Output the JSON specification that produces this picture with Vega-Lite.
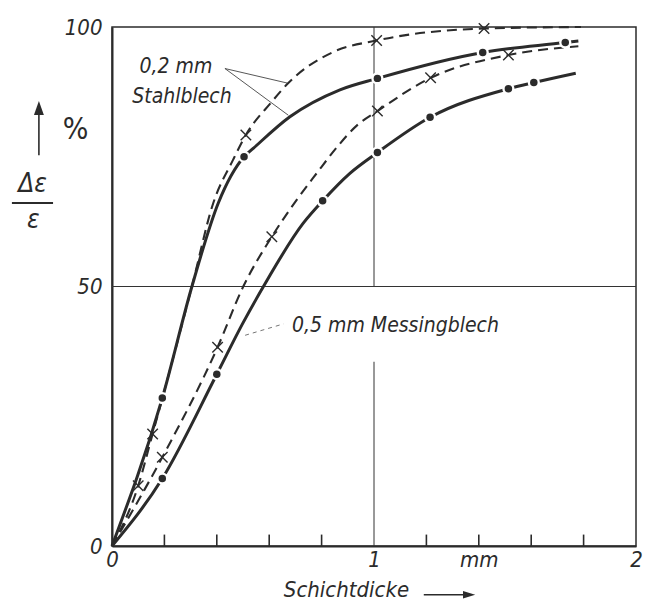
{
  "$schema": "https://vega.github.io/schema/vega-lite/v6.json",
  "width": 524,
  "height": 519,
  "autosize": {"type": "none"},
  "padding": {"left": 112, "top": 27, "right": 9, "bottom": 60},
  "background": "white",
  "config": {
    "view": {"stroke": "#2b2b2b", "strokeWidth": 1.5},
    "font": "DejaVu Sans Condensed, DejaVu Sans, sans-serif"
  },
  "datasets": {
    "curves": [
      {"s": "st_x", "x": 0, "y": 0, "m": 0},
      {"s": "st_x", "x": 0.10, "y": 11.6, "m": 1},
      {"s": "st_x", "x": 0.155, "y": 21.6, "m": 1},
      {"s": "st_x", "x": 0.305, "y": 50, "m": 0},
      {"s": "st_x", "x": 0.386, "y": 66, "m": 0},
      {"s": "st_x", "x": 0.462, "y": 74.4, "m": 0},
      {"s": "st_x", "x": 0.511, "y": 79.2, "m": 1},
      {"s": "st_x", "x": 0.61, "y": 85.6, "m": 0},
      {"s": "st_x", "x": 0.669, "y": 89.0, "m": 0},
      {"s": "st_x", "x": 0.845, "y": 95.2, "m": 0},
      {"s": "st_x", "x": 1.01, "y": 97.4, "m": 1},
      {"s": "st_x", "x": 1.42, "y": 99.7, "m": 1},
      {"s": "st_x", "x": 1.79, "y": 100, "m": 0},

      {"s": "st_o", "x": 0, "y": 0, "m": 0},
      {"s": "st_o", "x": 0.192, "y": 28.5, "m": 1},
      {"s": "st_o", "x": 0.305, "y": 50, "m": 0},
      {"s": "st_o", "x": 0.405, "y": 66, "m": 0},
      {"s": "st_o", "x": 0.504, "y": 75.0, "m": 1},
      {"s": "st_o", "x": 0.539, "y": 76.6, "m": 0},
      {"s": "st_o", "x": 0.679, "y": 82.7, "m": 0},
      {"s": "st_o", "x": 0.87, "y": 87.9, "m": 0},
      {"s": "st_o", "x": 1.013, "y": 90.1, "m": 1},
      {"s": "st_o", "x": 1.415, "y": 95.1, "m": 1},
      {"s": "st_o", "x": 1.73, "y": 97.0, "m": 1},
      {"s": "st_o", "x": 1.78, "y": 97.3, "m": 0},

      {"s": "ms_x", "x": 0, "y": 0, "m": 0},
      {"s": "ms_x", "x": 0.192, "y": 17.1, "m": 1},
      {"s": "ms_x", "x": 0.403, "y": 38.3, "m": 1},
      {"s": "ms_x", "x": 0.501, "y": 50, "m": 0},
      {"s": "ms_x", "x": 0.61, "y": 59.6, "m": 1},
      {"s": "ms_x", "x": 0.705, "y": 66.7, "m": 0},
      {"s": "ms_x", "x": 0.781, "y": 71.8, "m": 0},
      {"s": "ms_x", "x": 0.858, "y": 76.8, "m": 0},
      {"s": "ms_x", "x": 0.934, "y": 81.0, "m": 0},
      {"s": "ms_x", "x": 1.013, "y": 83.8, "m": 1},
      {"s": "ms_x", "x": 1.216, "y": 90.2, "m": 1},
      {"s": "ms_x", "x": 1.513, "y": 94.6, "m": 1},
      {"s": "ms_x", "x": 1.78, "y": 96.3, "m": 0},

      {"s": "ms_o", "x": 0, "y": 0, "m": 0},
      {"s": "ms_o", "x": 0.192, "y": 13.0, "m": 1},
      {"s": "ms_o", "x": 0.40, "y": 33.1, "m": 1},
      {"s": "ms_o", "x": 0.499, "y": 42.9, "m": 0},
      {"s": "ms_o", "x": 0.578, "y": 50, "m": 0},
      {"s": "ms_o", "x": 0.73, "y": 62.2, "m": 0},
      {"s": "ms_o", "x": 0.804, "y": 66.5, "m": 1},
      {"s": "ms_o", "x": 0.908, "y": 71.8, "m": 0},
      {"s": "ms_o", "x": 1.013, "y": 75.8, "m": 1},
      {"s": "ms_o", "x": 1.214, "y": 82.6, "m": 1},
      {"s": "ms_o", "x": 1.513, "y": 88.1, "m": 1},
      {"s": "ms_o", "x": 1.61, "y": 89.3, "m": 1},
      {"s": "ms_o", "x": 1.77, "y": 91.1, "m": 0}
    ],
    "grid_v": [
      {"x": 1, "y": 0, "y2": 35.5},
      {"x": 1, "y": 50, "y2": 100}
    ],
    "grid_h": [
      {"x": 0, "x2": 2, "y": 50}
    ],
    "ticks": [
      {"x": 0.2, "y": 0, "y2": 2.2},
      {"x": 0.4, "y": 0, "y2": 2.2},
      {"x": 0.6, "y": 0, "y2": 2.2},
      {"x": 0.8, "y": 0, "y2": 2.2},
      {"x": 1.2, "y": 0, "y2": 2.2},
      {"x": 1.4, "y": 0, "y2": 2.2},
      {"x": 1.6, "y": 0, "y2": 2.2},
      {"x": 1.8, "y": 0, "y2": 2.2}
    ],
    "pointer_lines": [
      {"x": 0.431, "y": 92.0, "x2": 0.669, "y2": 89.2},
      {"x": 0.431, "y": 92.0, "x2": 0.673, "y2": 83.0}
    ],
    "pointer_dashed": [
      {"x": 0.508, "y": 40.6, "x2": 0.655, "y2": 42.8}
    ],
    "axis_arrows": [
      {"x": -0.279, "y": 75.3, "x2": -0.279, "y2": 84.0},
      {"x": 1.19, "y": -9.4, "x2": 1.35, "y2": -9.4}
    ],
    "fraction_bar": [
      {"x": -0.382, "y": 66.1, "x2": -0.225, "y2": 66.1}
    ],
    "head_up": [{"x": -0.279, "y": 84.4}],
    "head_right": [{"x": 1.363, "y": -9.4}],
    "labels_center": [
      {"t": "0,2 mm", "x": 0.244, "y": 92.3},
      {"t": "Stahlblech", "x": 0.267, "y": 86.5}
    ],
    "labels_title": [
      {"t": "Schichtdicke", "x": 0.895, "y": -8.5}
    ],
    "labels_left": [
      {"t": "0,5 mm Messingblech", "x": 0.687, "y": 42.4}
    ],
    "labels_percent": [
      {"t": "%", "x": -0.139, "y": 80.2}
    ],
    "labels_eps": [
      {"t": "Δε", "x": -0.303, "y": 69.7},
      {"t": "ε", "x": -0.3, "y": 62.9}
    ]
  },
  "encoding": {
    "x": {
      "field": "x", "type": "quantitative",
      "scale": {"domain": [0, 2], "nice": false, "zero": false},
      "axis": {
        "values": [0, 1, 1.4, 2],
        "ticks": false,
        "domainWidth": 2, "domainColor": "#2b2b2b",
        "labelExpr": "datum.value == 1.4 ? 'mm' : datum.value == 0 ? '0' : datum.value == 1 ? '1' : '2'",
        "labelFontSize": 22, "labelFontStyle": "italic", "labelColor": "#2b2b2b",
        "labelPadding": 3, "labelFlush": false, "labelOverlap": false,
        "grid": false, "title": null
      }
    },
    "y": {
      "field": "y", "type": "quantitative",
      "scale": {"domain": [0, 100], "nice": false, "zero": false},
      "axis": {
        "values": [0, 50, 100], "ticks": false,
        "domainWidth": 2, "domainColor": "#2b2b2b",
        "labelExpr": "datum.value == 0 ? '0' : datum.value == 50 ? '50' : '100'",
        "labelFontSize": 22, "labelFontStyle": "italic", "labelColor": "#2b2b2b",
        "labelPadding": 10, "labelFlush": false, "labelOverlap": false,
        "grid": false, "title": null
      }
    }
  },
  "layer": [
    {
      "data": {"name": "grid_v"},
      "mark": {"type": "rule", "stroke": "#333333", "strokeWidth": 1},
      "encoding": {"y2": {"field": "y2"}}
    },
    {
      "data": {"name": "grid_h"},
      "mark": {"type": "rule", "stroke": "#333333", "strokeWidth": 1},
      "encoding": {"x2": {"field": "x2"}}
    },
    {
      "data": {"name": "ticks"},
      "mark": {"type": "rule", "stroke": "#2b2b2b", "strokeWidth": 1.6},
      "encoding": {"y2": {"field": "y2"}}
    },
    {
      "data": {"name": "pointer_lines"},
      "mark": {"type": "rule", "stroke": "#444444", "strokeWidth": 0.9},
      "encoding": {"x2": {"field": "x2"}, "y2": {"field": "y2"}}
    },
    {
      "data": {"name": "pointer_dashed"},
      "mark": {"type": "rule", "stroke": "#666666", "strokeWidth": 0.9, "strokeDash": [4, 4]},
      "encoding": {"x2": {"field": "x2"}, "y2": {"field": "y2"}}
    },
    {
      "data": {"name": "axis_arrows"},
      "mark": {"type": "rule", "stroke": "#2b2b2b", "strokeWidth": 1.6},
      "encoding": {"x2": {"field": "x2"}, "y2": {"field": "y2"}}
    },
    {
      "data": {"name": "fraction_bar"},
      "mark": {"type": "rule", "stroke": "#2b2b2b", "strokeWidth": 2},
      "encoding": {"x2": {"field": "x2"}, "y2": {"field": "y2"}}
    },
    {
      "data": {"name": "head_up"},
      "mark": {"type": "point", "shape": "M0,-1L0.7,1L-0.7,1Z", "filled": true, "color": "#2b2b2b", "size": 200, "opacity": 1}
    },
    {
      "data": {"name": "head_right"},
      "mark": {"type": "point", "shape": "M1,0L-1,0.6L-1,-0.6Z", "filled": true, "color": "#2b2b2b", "size": 150, "opacity": 1}
    },
    {
      "data": {"name": "curves"},
      "transform": [{"filter": "datum.s == 'st_x' || datum.s == 'ms_x'"}],
      "mark": {"type": "line", "interpolate": "monotone", "stroke": "#2b2b2b", "strokeWidth": 2.1, "strokeDash": [10, 6]},
      "encoding": {"detail": {"field": "s"}}
    },
    {
      "data": {"name": "curves"},
      "transform": [{"filter": "datum.s == 'st_o' || datum.s == 'ms_o'"}],
      "mark": {"type": "line", "interpolate": "monotone", "stroke": "#2b2b2b", "strokeWidth": 3},
      "encoding": {"detail": {"field": "s"}}
    },
    {
      "data": {"name": "curves"},
      "transform": [{"filter": "datum.m == 1 && (datum.s == 'st_o' || datum.s == 'ms_o')"}],
      "mark": {"type": "point", "shape": "circle", "filled": true, "color": "white", "size": 150, "opacity": 1}
    },
    {
      "data": {"name": "curves"},
      "transform": [{"filter": "datum.m == 1 && (datum.s == 'st_o' || datum.s == 'ms_o')"}],
      "mark": {"type": "point", "shape": "circle", "filled": true, "color": "#2b2b2b", "size": 56, "opacity": 1}
    },
    {
      "data": {"name": "curves"},
      "transform": [{"filter": "datum.m == 1 && (datum.s == 'st_x' || datum.s == 'ms_x')"}],
      "mark": {"type": "point", "shape": "M-1,-1L1,1M-1,1L1,-1", "filled": false, "stroke": "#2b2b2b", "strokeWidth": 1.4, "size": 110, "opacity": 1}
    },
    {
      "data": {"name": "labels_center"},
      "mark": {"type": "text", "fontSize": 21, "fontStyle": "italic", "align": "center", "baseline": "middle", "color": "#2b2b2b"},
      "encoding": {"text": {"field": "t"}}
    },
    {
      "data": {"name": "labels_title"},
      "mark": {"type": "text", "fontSize": 22, "fontStyle": "italic", "align": "center", "baseline": "middle", "color": "#2b2b2b"},
      "encoding": {"text": {"field": "t"}}
    },
    {
      "data": {"name": "labels_left"},
      "mark": {"type": "text", "fontSize": 21, "fontStyle": "italic", "align": "left", "baseline": "middle", "color": "#2b2b2b"},
      "encoding": {"text": {"field": "t"}}
    },
    {
      "data": {"name": "labels_percent"},
      "mark": {"type": "text", "fontSize": 30, "align": "center", "baseline": "middle", "color": "#2b2b2b"},
      "encoding": {"text": {"field": "t"}}
    },
    {
      "data": {"name": "labels_eps"},
      "mark": {"type": "text", "fontSize": 26, "fontStyle": "italic", "align": "center", "baseline": "middle", "color": "#2b2b2b"},
      "encoding": {"text": {"field": "t"}}
    }
  ]
}
